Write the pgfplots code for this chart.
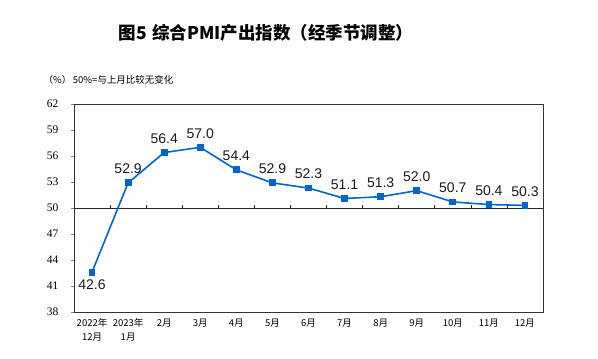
\documentclass[border=0pt]{standalone}
\usepackage{pgfplots}
\pgfplotsset{compat=1.18}
\usepackage{fontspec}
\setmainfont{Liberation Sans}
\newfontfamily\cjk{Noto Sans CJK SC}
\newfontfamily\tnr{Liberation Serif}
\definecolor{pmiblue}{HTML}{0066CC}
\begin{document}
\begin{tikzpicture}[x=1bp,y=1bp]
\useasboundingbox (0,0) rectangle (598,358);
\node[font=\cjk\bfseries\fontsize{17.5bp}{19bp}\selectfont] at (266,325) {图5\hspace{5bp}综合PMI产出指数（经季节调整）};
\node[font=\cjk\fontsize{9.5bp}{12bp}\selectfont, anchor=west] at (40,278) {（\%）\,50\%=与上月比较无变化};
\begin{axis}[
  at={(74bp,46bp)}, anchor=south west,
  scale only axis, width=469bp, height=208bp,
  xmin=-0.5, xmax=12.5, ymin=38, ymax=62,
  ytick={38,41,44,47,50,53,56,59,62},
  xtick={0,...,12},
  xticklabels={{2022年\\12月},{2023年\\1月},2月,3月,4月,5月,6月,7月,8月,9月,10月,11月,12月},
  x tick label style={font=\cjk\fontsize{9.5bp}{13.5bp}\selectfont, align=center, anchor=north, yshift=-3bp},
  y tick label style={font=\tnr\fontsize{11.5bp}{13bp}\selectfont, xshift=-9bp},
  /pgf/number format/assume math mode=true,
  major x tick style={draw=none},
  ytick align=outside, ytick pos=left,
  major tick length=3bp,
  axis line style={draw=black!80, line width=0.8pt},
  clip=false,
]
\draw[black!85, line width=0.7pt] (axis cs:-0.5,50) -- (axis cs:12.5,50);
\pgfplotsinvokeforeach{0.5,1.5,...,11.5}{\draw[black!85, line width=0.7pt] (axis cs:#1,50) -- ++(0bp,3.5bp);}
\addplot[color=pmiblue, line width=1.6pt, mark=square*, mark size=2.6bp,
  nodes near coords, point meta=explicit,
  every node near coord/.append style={font=\fontsize{14bp}{16bp}\selectfont, color=black!90, anchor=south, yshift=5bp},
  /pgf/number format/.cd, fixed, fixed zerofill, precision=1]
coordinates {
(1,52.9) [52.9] (2,56.4) [56.4] (3,57.0) [57.0] (4,54.4) [54.4] (5,52.9) [52.9] (6,52.3) [52.3]
(7,51.1) [51.1] (8,51.3) [51.3] (9,52.0) [52.0] (10,50.7) [50.7] (11,50.4) [50.4] (12,50.3) [50.3]
};
\addplot[color=pmiblue, line width=1.6pt, mark=square*, mark size=2.6bp, forget plot]
coordinates {(0,42.6) (1,52.9)};
\addplot[draw=none, forget plot,
  nodes near coords, point meta=explicit,
  every node near coord/.append style={font=\fontsize{14bp}{16bp}\selectfont, color=black!90, anchor=north, yshift=-4bp},
  /pgf/number format/.cd, fixed, fixed zerofill, precision=1]
coordinates {(0,42.6) [42.6]};
\end{axis}
\end{tikzpicture}
\end{document}
